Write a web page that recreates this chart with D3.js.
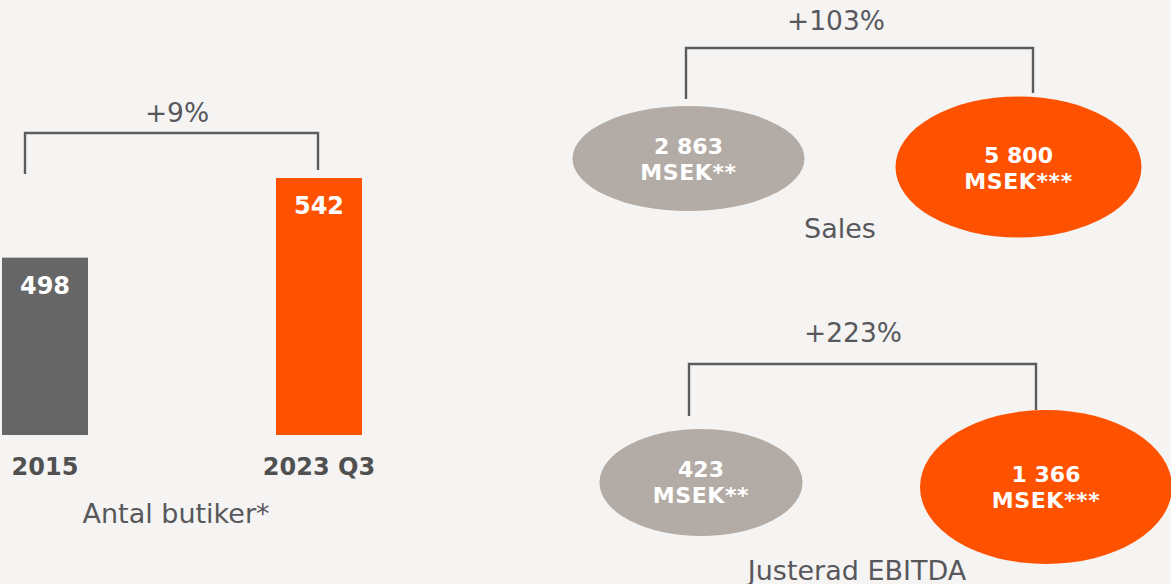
<!DOCTYPE html>
<html>
<head>
<meta charset="utf-8">
<script src="https://cdn.jsdelivr.net/npm/d3@7"></script>
<style>
  html, body { margin: 0; padding: 0; background: #f5f4f2; }
  svg { display: block; font-family: "DejaVu Sans", Verdana, sans-serif; }
</style>
</head>
<body>
<div id="viz"></div>
<script>
// store count (bars)
const storeYears = ["2015", "2023 Q3"];
const storeCounts = [498, 542];
const storeChange = "+9%";
const storeTitle = "Antal butiker*";

// sales (ellipses), MSEK
const salesValues = [2863, 5800];
const salesUnits = ["MSEK**", "MSEK***"];
const salesChange = "+103%";
const salesTitle = "Sales";

// adjusted EBITDA (ellipses), MSEK
const ebitdaValues = [423, 1366];
const ebitdaUnits = ["MSEK**", "MSEK***"];
const ebitdaChange = "+223%";
const ebitdaTitle = "Justerad EBITDA";

const width = 1171, height = 584;
const grey = "#666666", orange = "#ff5200", lightGrey = "#b3aca6";
const textGrey = "#58585c", lineGrey = "#5c5c60";

const svg = d3.select("#viz").append("svg")
  .attr("width", width)
  .attr("height", height);

// Swedish thousands separator is a space
const fmt = v => d3.format(",")(v).replace(/,/g, " ");

// draw a bracket from (x1,y1) up to top, across, down to (x2,y2)
function bracket(x1, y1, x2, y2, top) {
  svg.append("path")
    .attr("d", `M${x1},${y1}V${top}H${x2}V${y2}`)
    .attr("fill", "none")
    .attr("stroke", lineGrey)
    .attr("stroke-width", 2.4);
}

function label(x, y, txt, size, weight, color) {
  return svg.append("text")
    .attr("x", x).attr("y", y)
    .attr("text-anchor", "middle")
    .attr("font-size", size)
    .attr("font-weight", weight)
    .attr("fill", color)
    .text(txt);
}

// ---------- bars ----------
const xBar = d3.scalePoint().domain(storeYears).range([45, 319]);
const yBar = d3.scaleLinear().domain([400, 542]).range([435, 178]);
const barW = 86;

svg.selectAll("rect.bar")
  .data(storeYears)
  .join("rect")
    .attr("class", "bar")
    .attr("x", d => xBar(d) - barW / 2)
    .attr("width", barW)
    .attr("y", (d, i) => yBar(storeCounts[i]))
    .attr("height", (d, i) => yBar.range()[0] - yBar(storeCounts[i]))
    .attr("fill", (d, i) => i === 0 ? grey : orange);

storeYears.forEach((d, i) => {
  label(xBar(d), yBar(storeCounts[i]) + 36, storeCounts[i], 24, "bold", "#ffffff");
  label(xBar(d), 475, d, 24, "bold", "#505050");
});
label(176, 523, storeTitle, 27, "normal", textGrey);

bracket(25, 174, 318, 170, 133);
label(177, 122, storeChange, 26.5, "normal", textGrey);

// ---------- ellipses ----------
function ellipsePanel(values, units, change, title, lay) {
  const x = d3.scalePoint().domain(d3.range(values.length)).range(lay.cx);
  values.forEach((v, i) => {
    svg.append("ellipse")
      .attr("cx", x(i)).attr("cy", lay.cy[i])
      .attr("rx", lay.rx[i]).attr("ry", lay.ry[i])
      .attr("fill", i === 0 ? lightGrey : orange);
    label(x(i), lay.ty[i], fmt(v), 22, "bold", "#ffffff");
    label(x(i), lay.ty[i] + 26, units[i], 22, "bold", "#ffffff")
      .attr("letter-spacing", 0.6);
  });
  bracket(lay.bx[0], lay.by[0], lay.bx[1], lay.by[1], lay.btop);
  label(lay.chx, lay.chy, change, 26.5, "normal", textGrey);
  label(lay.chx + 4, lay.tity, title, 27, "normal", textGrey);
}

ellipsePanel(salesValues, salesUnits, salesChange, salesTitle, {
  cx: [688.5, 1018.5], cy: [158.5, 167], rx: [116, 123], ry: [52.5, 70.5],
  ty: [154, 163], bx: [686, 1033], by: [99, 93], btop: 48,
  chx: 836, chy: 30, tity: 238
});

ellipsePanel(ebitdaValues, ebitdaUnits, ebitdaChange, ebitdaTitle, {
  cx: [701, 1046], cy: [482.5, 487], rx: [101.5, 126], ry: [53.5, 77],
  ty: [477, 482], bx: [689, 1036], by: [416, 410], btop: 364,
  chx: 853, chy: 342, tity: 580
});
</script>
</body>
</html>
